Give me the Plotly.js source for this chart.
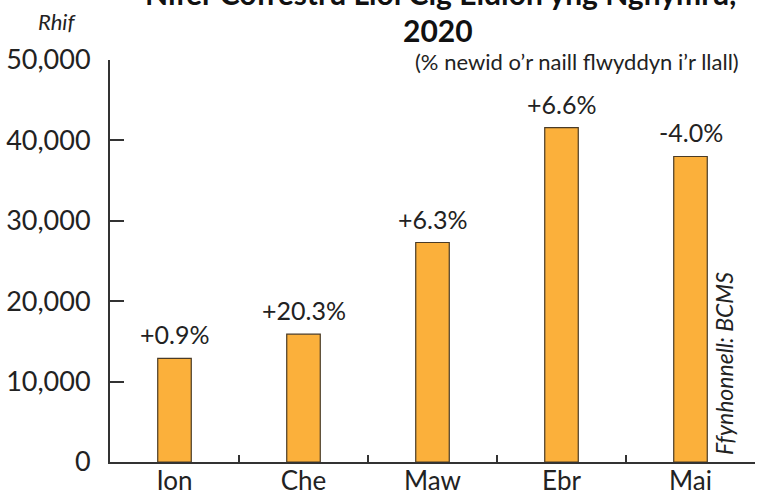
<!DOCTYPE html>
<html><head><meta charset="utf-8">
<script src="https://cdn.plot.ly/plotly-3.0.1.min.js"></script>
<style>html,body{margin:0;padding:0;background:#fff}#c{width:757px;height:495px}</style>
</head><body><div id="c"></div>
<script>
const months = ["Ion", "Che", "Maw", "Ebr", "Mai"];
const registrations = [12900, 15900, 27300, 41600, 38000];
const changeLabels = ["+0.9%", "+20.3%", "+6.3%", "+6.6%", "-4.0%"];
const yTickVals = [0, 10000, 20000, 30000, 40000, 50000];
const yTickText = ["0", "10,000", "20,000", "30,000", "40,000", "50,000"];
const titleLine1 = "Nifer Cofrestru Lloi Cig Eidion yng Nghymru,";
const titleLine2 = "2020";
const subtitle = "(% newid o’r naill flwyddyn i’r llall)";
const yLabel = "Rhif";
const source = "Ffynhonnell: BCMS";

const FONT = "Lato, 'Open Sans', sans-serif";
const T = 60, B = 33, H = 495 - T - B;
const py = (px) => 1 + (T - px) / H;

const annotations = months.map((m, i) => ({
  x: m, y: registrations[i], xref: 'x', yref: 'y',
  text: changeLabels[i], showarrow: false, yanchor: 'bottom', yshift: 7,
  font: {family: FONT, size: 25, color: '#222'}
}));
annotations.push(
  {xref: 'paper', yref: 'paper', x: (440 - 110) / 645, y: py(-7), xanchor: 'center', yanchor: 'middle',
   text: '<b>' + titleLine1 + '</b>', showarrow: false, font: {family: FONT, size: 30, color: '#111'}},
  {xref: 'paper', yref: 'paper', x: (438 - 110) / 645, y: py(30), xanchor: 'center', yanchor: 'middle',
   text: '<b>' + titleLine2 + '</b>', showarrow: false, font: {family: FONT, size: 30, color: '#111'}},
  {xref: 'paper', yref: 'paper', x: (741 - 110) / 645, y: py(61), xanchor: 'right', yanchor: 'middle',
   text: subtitle, showarrow: false, font: {family: FONT, size: 22, color: '#222'}},
  {xref: 'paper', yref: 'paper', x: (57 - 110) / 645, y: py(21), xanchor: 'center', yanchor: 'middle',
   text: '<i>' + yLabel + '</i>', showarrow: false, font: {family: FONT, size: 22, color: '#222'}},
  {xref: 'paper', yref: 'paper', x: (724 - 110) / 645, y: py(364), xanchor: 'center', yanchor: 'middle',
   text: '<i>' + source + '</i>', textangle: -90, showarrow: false, font: {family: FONT, size: 23, color: '#222'}}
);

Plotly.newPlot('c', [{
  type: 'bar', x: months, y: registrations, width: 0.26,
  marker: {color: '#FBB03B', line: {color: '#4a3b26', width: 1.2}},
  hoverinfo: 'skip'
}], {
  width: 757, height: 495,
  margin: {l: 110, r: 2, t: T, b: B, pad: 0},
  paper_bgcolor: '#fff', plot_bgcolor: '#fff',
  showlegend: false,
  font: {family: FONT, color: '#222'},
  xaxis: {
    type: 'category', tickson: 'boundaries', ticks: 'inside', ticklen: 7, tickwidth: 2, tickcolor: '#333',
    showline: true, linecolor: '#333', linewidth: 2, showgrid: false, zeroline: false,
    tickfont: {family: FONT, size: 26, color: '#222'}, range: [-0.5, 4.5], ticklabelstandoff: -5
  },
  yaxis: {
    range: [0, 50000], tickvals: yTickVals, ticktext: yTickText,
    ticks: 'inside', ticklen: 14, tickwidth: 2, tickcolor: '#333',
    showline: true, linecolor: '#333', linewidth: 2, showgrid: false, zeroline: false,
    tickfont: {family: FONT, size: 27, color: '#222'}, ticklabelstandoff: 12
  },
  annotations: annotations
}, {displayModeBar: false, staticPlot: true});
</script></body></html>
